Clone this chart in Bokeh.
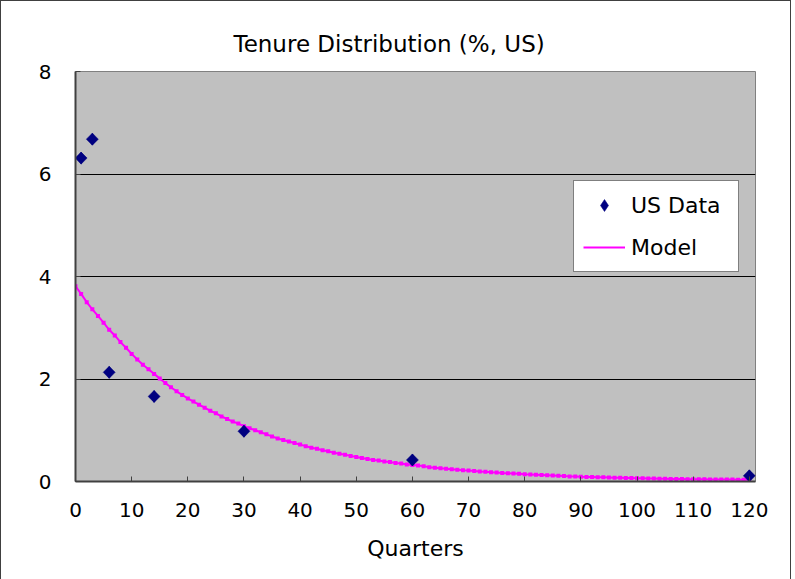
import math
from bokeh.plotting import figure
from bokeh.models import Range1d, FixedTicker, Legend, LegendItem, ColumnDataSource
from bokeh.embed import file_html
from bokeh.resources import INLINE

# US data (quarters of tenure, % share)
us_quarters = [1, 3, 6, 14, 30, 60, 120]
us_values = [6.31, 6.68, 2.13, 1.66, 0.98, 0.42, 0.11]

# Model, one value per quarter 0..120
model_quarters = list(range(0, 121))
model_values = [
    3.81, 3.66, 3.50, 3.36, 3.23, 3.10, 2.96, 2.85, 2.72, 2.61,
    2.49, 2.38, 2.28, 2.19, 2.10, 2.01, 1.92, 1.84, 1.76, 1.69,
    1.62, 1.56, 1.50, 1.44, 1.38, 1.33, 1.27, 1.22, 1.17, 1.13,
    1.08, 1.04, 1.00, 0.96, 0.92, 0.88, 0.84, 0.81, 0.78, 0.75,
    0.72, 0.69, 0.66, 0.64, 0.61, 0.59, 0.56, 0.54, 0.52, 0.50,
    0.48, 0.46, 0.44, 0.42, 0.41, 0.39, 0.38, 0.36, 0.35, 0.33,
    0.32, 0.31, 0.30, 0.28, 0.27, 0.26, 0.25, 0.24, 0.23, 0.22,
    0.215, 0.205, 0.195, 0.19, 0.18, 0.175, 0.165, 0.16, 0.155, 0.15,
    0.14, 0.135, 0.13, 0.125, 0.12, 0.115, 0.11, 0.105, 0.10, 0.097,
    0.093, 0.09, 0.087, 0.084, 0.081, 0.078, 0.075, 0.072, 0.069, 0.066,
    0.063, 0.061, 0.059, 0.057, 0.055, 0.053, 0.051, 0.049, 0.047, 0.045,
    0.044, 0.043, 0.042, 0.041, 0.040, 0.039, 0.038, 0.037, 0.036, 0.035,
    0.034,
]

x_ticks = [0, 10, 20, 30, 40, 50, 60, 70, 80, 90, 100, 110, 120]
y_ticks = [0, 2, 4, 6, 8]

title_text = "Tenure Distribution (%, US)"
x_label = "Quarters"

FONT = "DejaVu Sans"

p = figure(
    frame_width=680, frame_height=410,
    x_range=Range1d(0, 121.1), y_range=Range1d(0, 8),
    output_backend="svg", toolbar_location=None,
    min_border_left=74, min_border_right=35,
    min_border_top=70, min_border_bottom=98,
    background_fill_color="#C0C0C0", border_fill_color="white",
    title=title_text,
)
p.styles = {"border-left": "1px solid #404040", "border-top": "1px solid #404040",
            "border-right": "1px solid #404040"}

p.title.align = "left"
p.title.offset = 158
p.title.standoff = 29
p.title.text_font = FONT
p.title.text_font_size = "23px"
p.title.text_font_style = "normal"
p.title.text_color = "black"

p.outline_line_color = "#808080"
p.outline_line_width = 1

p.xgrid.visible = False
p.ygrid.ticker = FixedTicker(ticks=y_ticks)
p.ygrid.grid_line_color = "black"
p.ygrid.grid_line_width = 1

for ax in (p.xaxis[0], p.yaxis[0]):
    ax.axis_line_color = "#404040"
    ax.axis_line_width = 2
    ax.major_tick_line_color = "#404040"
    ax.major_tick_in = 5
    ax.major_tick_out = 0
    ax.minor_tick_line_color = None
    ax.major_label_text_font = FONT
    ax.major_label_text_font_size = "20px"
    ax.major_label_text_color = "black"

p.xaxis.ticker = FixedTicker(ticks=x_ticks)
p.yaxis.ticker = FixedTicker(ticks=y_ticks)
p.xaxis.major_label_standoff = 21
p.yaxis.major_label_standoff = 24
p.xaxis.axis_label = x_label
p.xaxis.axis_label_text_font = FONT
p.xaxis.axis_label_text_font_size = "22px"
p.xaxis.axis_label_text_font_style = "normal"
p.xaxis.axis_label_text_color = "black"
p.xaxis.axis_label_standoff = 16

model_src = ColumnDataSource(data=dict(x=model_quarters, y=model_values))
us_src = ColumnDataSource(data=dict(x=us_quarters, y=us_values))

ml = p.line("x", "y", source=model_src, line_color="#FF00FF", line_width=2)
mm = p.scatter("x", "y", source=model_src, marker="square", size=4,
               fill_color="#FF00FF", line_color="#FF00FF", line_width=0)
# legend swatch renderer: a diamond fully hidden under the rotated squares below
us_key = p.scatter("x", "y", source=us_src, marker="diamond", size=12,
                   fill_color="#000080", line_color="#000080", line_width=0.5)
us = p.scatter("x", "y", source=us_src, marker="square", angle=math.pi / 4, size=8.5,
               fill_color="#000080", line_color="#000080", line_width=0.5)

legend = Legend(
    items=[LegendItem(label="US Data", renderers=[us_key]),
           LegendItem(label="Model", renderers=[ml])],
    location=(498, 209),
    border_line_color="black", border_line_width=1,
    background_fill_color="white", background_fill_alpha=1,
    padding=9, spacing=12, glyph_width=42, glyph_height=30,
    label_height=30, label_width=98, label_standoff=6,
    label_text_font=FONT, label_text_font_size="22px",
    label_text_color="black",
    margin=0,
)
p.add_layout(legend, "center")

open("out.html", "w").write(file_html(p, INLINE))
